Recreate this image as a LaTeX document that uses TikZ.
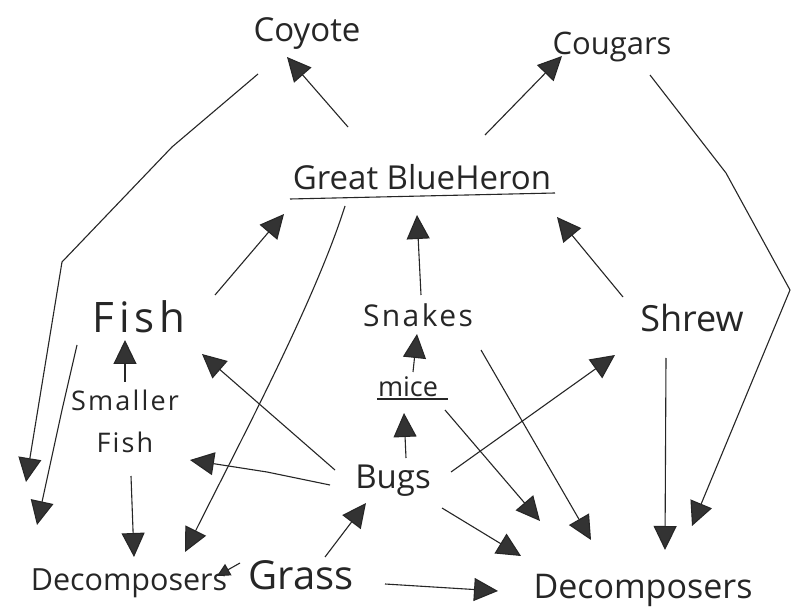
\documentclass[tikz,border=0pt]{standalone}
\usepackage{fontspec}
\setmainfont{Open Sans}
\usetikzlibrary{arrows.meta,calc}
\newcommand\fz[1]{\fontsize{#1}{#1}\selectfont}
\newcommand\lsp[1]{\addfontfeatures{LetterSpace=#1}}
\definecolor{ink}{HTML}{262626}
\definecolor{headc}{HTML}{333333}
\begin{document}
\begin{tikzpicture}[x=1pt,y=-1pt,
  lbl/.style={inner sep=0pt, anchor=base, text=ink},
  arr/.style={draw=ink, line width=1.1pt, line join=round,
     -{Triangle[length=24pt,width=23pt,fill=headc]}},
  smallarr/.style={draw=ink, line width=1.1pt,
     -{Triangle[length=13pt,width=13pt,fill=headc]}},
  uline/.style={draw=ink, line width=1.1pt}]
\useasboundingbox (0,0) rectangle (793,612);
\fill[white] (0,0) rectangle (793,612);
% nodes
\node[lbl,font=\fz{33}] (coyote) at (307,42) {Coyote};
\node[lbl,font=\fz{31}] (cougars) at (612,55) {Cougars};
\node[lbl,font=\fz{33}] (heron) at (422,190) {Great BlueHeron};
\node[lbl,font=\fz{42}\lsp{12}] (fish) at (139,333) {Fish};
\node[lbl,font=\fz{30}\lsp{8}] (snakes) at (418,327) {Snakes};
\node[lbl,font=\fz{36}] (shrew) at (692,332) {Shrew};
\node[lbl,font=\fz{27}] (mice) at (408,396) {mice};
\node[lbl,font=\fz{27}\lsp{8},align=center] (small) at (125,452) {Smaller\\[15pt]Fish};
\node[lbl,font=\fz{33}] (bugs) at (393,488) {Bugs};
\node[lbl,font=\fz{30.5}] (decL) at (129,590) {Decomposers};
\node[lbl,font=\fz{40}] (grass) at (301,589) {Grass};
\node[lbl,font=\fz{34}] (decR) at (643,598) {Decomposers};
% underlines
\draw[uline] ([shift={(-132,9)}]heron.base) -- ([shift={(133,3)}]heron.base);
\draw[uline] ([shift={(-31,3)}]mice.base) -- ([shift={(40,3)}]mice.base);
% connectors
\draw[arr] ([shift={(-74,-63)}]heron.base) -- ([shift={(-20,15)}]coyote.base);
\draw[arr] ([shift={(-49,32)}]coyote.base) -- ++(-86,73) -- ++(-110,115) -- ([shift={(-103,-108)}]decL.base);
\draw[arr] ([shift={(-62,12)}]fish.base) -- ++(-15,65) -- ([shift={(-92,-65)}]decL.base);
\draw[arr] ([shift={(-77,16)}]heron.base) .. controls +(-30,95) and +(55,-110) .. ([shift={(56,-38)}]decL.base);
\draw[arr] ([shift={(76,-38)}]fish.base) -- ([shift={(-138,24)}]heron.base);
\draw[arr] ([shift={(0,-70)}]small.base) -- ([shift={(-14,7)}]fish.base);
\draw[arr] ([shift={(6,24)}]small.base) -- ([shift={(5,-33)}]decL.base);
\draw[arr] ([shift={(-58,-18)}]bugs.base) -- ([shift={(63,21)}]fish.base);
\draw[arr] ([shift={(-63,-3)}]bugs.base) -- ++(-63,-13) -- ([shift={(65,8)}]small.base);
\draw[smallarr] ([shift={(-61,-26)}]grass.base) -- ([shift={(88,-14)}]decL.base);
\draw[arr] ([shift={(24,-32)}]grass.base) -- ([shift={(-27,15)}]bugs.base);
\draw[arr] ([shift={(84,-5)}]grass.base) -- ([shift={(-145,-7)}]decR.base);
\draw[arr] ([shift={(13,-30)}]bugs.base) -- ([shift={(-4,17)}]mice.base);
\draw[arr] ([shift={(5,-24)}]mice.base) -- ([shift={(-1,7)}]snakes.base);
\draw[arr] ([shift={(3,-32)}]snakes.base) -- ([shift={(-5,25)}]heron.base);
\draw[arr] ([shift={(-69,-35)}]shrew.base) -- ([shift={(135,27)}]heron.base);
\draw[arr] ([shift={(63,-55)}]heron.base) -- ([shift={(-50,1)}]cougars.base);
\draw[arr] ([shift={(38,20)}]cougars.base) -- ++(76,98) -- ++(64,117) -- ([shift={(49,-72)}]decR.base);
\draw[arr] ([shift={(-26,26)}]shrew.base) -- ([shift={(22,-48)}]decR.base);
\draw[arr] ([shift={(58,-16)}]bugs.base) -- ([shift={(-77,23)}]shrew.base);
\draw[arr] ([shift={(49,20)}]bugs.base) -- ([shift={(-122,-42)}]decR.base);
\draw[arr] ([shift={(37,14)}]mice.base) -- ([shift={(-103,-77)}]decR.base);
\draw[arr] ([shift={(63,23)}]snakes.base) -- ([shift={(-52,-58)}]decR.base);
\end{tikzpicture}
\end{document}
